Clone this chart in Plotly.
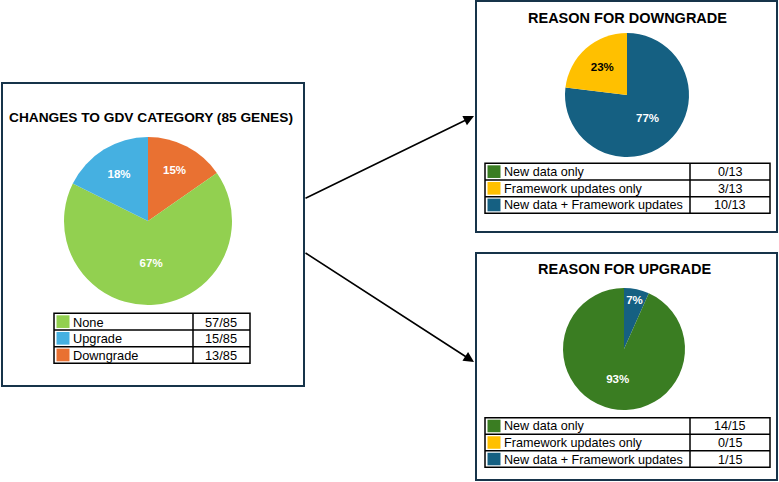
import plotly.graph_objects as go

W, H = 779, 482

# ---------------- data ----------------
gdv_title = "CHANGES TO GDV CATEGORY (85 GENES)"
gdv_labels = ["None", "Upgrade", "Downgrade"]
gdv_counts = [57, 15, 13]
gdv_colors = ["#92d050", "#45b0e1", "#e97132"]

reason_labels = ["New data only", "Framework updates only", "New data + Framework updates"]
reason_colors = ["#3a7d22", "#ffc000", "#156082"]

down_title = "REASON FOR DOWNGRADE"
down_counts = [0, 3, 10]

up_title = "REASON FOR UPGRADE"
up_counts = [14, 0, 1]

BORDER = "#17344a"
FONT = "Liberation Sans"


def X(px):
    return px / W


def Y(py):
    return 1 - py / H


def pct_text(vals):
    tot = sum(vals)
    return [f"{round(100 * v / tot)}%" if v else "" for v in vals]


fig = go.Figure()
shapes = []
annotations = []


def add_pie(labels, vals, colors, cx, cy, r, order, text_colors):
    lab = [labels[i] for i in order]
    v = [vals[i] for i in order]
    c = [colors[i] for i in order]
    tc = [text_colors[i] for i in order]
    fig.add_trace(go.Pie(
        labels=lab, values=v, sort=False, direction="clockwise", rotation=0,
        marker=dict(colors=c, line=dict(width=0)),
        text=pct_text(v), textinfo="text", textposition="inside",
        insidetextorientation="horizontal",
        insidetextfont=dict(family=FONT, size=11.5, color=tc, weight="bold"),
        hoverinfo="label+value+percent", showlegend=False,
        domain=dict(x=[X(cx - r), X(cx + r)], y=[Y(cy + r), Y(cy - r)]),
    ))


def add_table(labels, vals, colors, x0, x1, xdiv, y0, y1, fsize):
    tot = sum(vals)
    n = len(labels)
    rh = (y1 - y0) / n
    line = dict(color="black", width=1.5)
    shapes.append(dict(type="rect", xref="paper", yref="paper",
                       x0=X(x0), x1=X(x1), y0=Y(y0), y1=Y(y1), line=line))
    shapes.append(dict(type="line", xref="paper", yref="paper",
                       x0=X(xdiv), x1=X(xdiv), y0=Y(y0), y1=Y(y1), line=line))
    for i in range(1, n):
        yy = y0 + i * rh
        shapes.append(dict(type="line", xref="paper", yref="paper",
                           x0=X(x0), x1=X(x1), y0=Y(yy), y1=Y(yy), line=line))
    for i, (lab, v, col) in enumerate(zip(labels, vals, colors)):
        ry0 = y0 + i * rh
        shapes.append(dict(type="rect", xref="paper", yref="paper",
                           x0=X(x0 + 2.5), x1=X(x0 + 15.5),
                           y0=Y(ry0 + 2), y1=Y(ry0 + rh - 2),
                           fillcolor=col, line=dict(width=0)))
        annotations.append(dict(text=lab, xref="paper", yref="paper",
                                x=X(x0 + 17), y=Y(ry0 + rh / 2 + 0.5),
                                xanchor="left", yanchor="middle", showarrow=False,
                                font=dict(family=FONT, size=fsize, color="black")))
        annotations.append(dict(text=f"{v}/{tot}", xref="paper", yref="paper",
                                x=X((xdiv + x1) / 2), y=Y(ry0 + rh / 2 + 0.5),
                                xanchor="center", yanchor="middle", showarrow=False,
                                font=dict(family=FONT, size=fsize, color="black")))


def add_box(x0, y0, x1, y1):
    shapes.append(dict(type="rect", xref="paper", yref="paper",
                       x0=X(x0), x1=X(x1), y0=Y(y0), y1=Y(y1),
                       line=dict(color=BORDER, width=2)))


def add_title(text, cx, cy, size):
    annotations.append(dict(text=f"<b>{text}</b>", xref="paper", yref="paper",
                            x=X(cx), y=Y(cy), xanchor="center", yanchor="middle",
                            showarrow=False,
                            font=dict(family=FONT, size=size, color="black")))


# ---------------- left panel ----------------
add_box(2, 83, 304, 386)
add_title(gdv_title, 151, 117, 13.7)
add_pie(gdv_labels, gdv_counts, gdv_colors, 148, 221, 84, [2, 0, 1],
        ["white", "white", "white"])
add_table(gdv_labels, gdv_counts, gdv_colors, 54, 250, 193, 313.3, 363.3, 12.8)

# ---------------- top right panel ----------------
add_box(476, 1, 777, 232)
add_title(down_title, 627, 18, 14.5)
add_pie(reason_labels, down_counts, reason_colors, 627, 95, 62, [2, 1, 0],
        ["white", "black", "white"])
add_table(reason_labels, down_counts, reason_colors, 485, 770, 690, 163.3, 213.3, 12.6)

# ---------------- bottom right panel ----------------
add_box(476, 253, 777, 480)
add_title(up_title, 625, 269, 14.5)
add_pie(reason_labels, up_counts, reason_colors, 624, 349, 61, [2, 1, 0],
        ["white", "white", "white"])
add_table(reason_labels, up_counts, reason_colors, 485, 770, 690, 417.7, 467.3, 12.6)

# ---------------- arrows ----------------
for (sx, sy, tx, ty) in [(304, 199, 474, 116), (304, 252, 474, 362)]:
    annotations.append(dict(x=X(tx), y=Y(ty), xref="paper", yref="paper",
                            ax=sx - tx, ay=sy - ty, axref="pixel", ayref="pixel",
                            showarrow=True, arrowhead=2, arrowsize=1.3,
                            arrowwidth=1.6, arrowcolor="black", text=""))

fig.update_layout(
    width=W, height=H, margin=dict(l=0, r=0, t=0, b=0),
    paper_bgcolor="white", plot_bgcolor="white",
    shapes=shapes, annotations=annotations,
    font=dict(family=FONT),
)

fig.write_html("out.html", config={"displayModeBar": False},
               post_script="document.body.style.margin='0px';document.body.style.overflow='hidden';")
